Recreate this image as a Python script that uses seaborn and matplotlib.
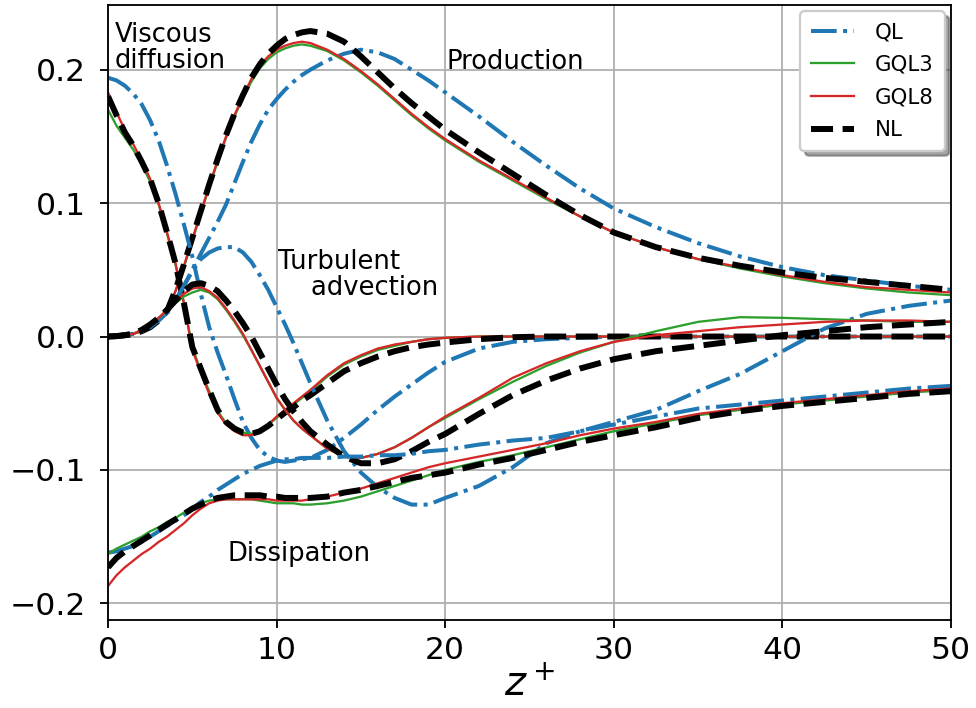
import matplotlib
matplotlib.use("Agg")
import matplotlib.pyplot as plt
import seaborn as sns

# ---- data ----
z_plus = [0, 0.5, 1, 1.5, 2, 2.5, 3, 3.5, 4, 4.5, 5, 5.5, 6, 6.5, 7, 7.5, 8, 8.5, 9, 9.5, 10,
          10.5, 11, 11.5, 12,
          13, 14, 15, 16, 17, 18, 19, 20,
          22, 24, 26, 28, 30,
          32.5, 35, 37.5, 40, 42.5, 45, 47.5, 50]

models = ["QL", "GQL3", "GQL8", "NL"]

# Production
prod_QL = [0, 0.0003, 0.001, 0.002, 0.004, 0.007, 0.012, 0.018, 0.027, 0.038, 0.05, 0.062, 0.074,
           0.086, 0.099, 0.115, 0.131, 0.146, 0.159, 0.17, 0.178, 0.185, 0.191, 0.196, 0.2,
           0.207, 0.212, 0.215, 0.213, 0.208, 0.2, 0.192, 0.183,
           0.165, 0.146, 0.128, 0.111, 0.096,
           0.082, 0.07, 0.06, 0.052, 0.046, 0.042, 0.038, 0.035]
prod_GQL3 = [0, 0.0003, 0.001, 0.002, 0.004, 0.007, 0.012, 0.019, 0.034, 0.052, 0.072, 0.092, 0.112,
             0.131, 0.149, 0.165, 0.179, 0.191, 0.201, 0.208, 0.213, 0.216, 0.218, 0.219, 0.218,
             0.214, 0.207, 0.198, 0.188, 0.177, 0.166, 0.156, 0.147,
             0.131, 0.117, 0.103, 0.09, 0.078,
             0.067, 0.058, 0.051, 0.045, 0.04, 0.036, 0.033, 0.031]
prod_GQL8 = [0, 0.0003, 0.001, 0.002, 0.004, 0.007, 0.012, 0.019, 0.034, 0.053, 0.073, 0.093, 0.113,
             0.132, 0.15, 0.166, 0.18, 0.193, 0.203, 0.21, 0.215, 0.218, 0.22, 0.221, 0.22,
             0.215, 0.208, 0.199, 0.189, 0.178, 0.167, 0.157, 0.148,
             0.132, 0.118, 0.104, 0.09, 0.078,
             0.067, 0.058, 0.052, 0.046, 0.041, 0.037, 0.035, 0.033]
prod_NL = [0, 0.0003, 0.001, 0.002, 0.004, 0.007, 0.012, 0.019, 0.035, 0.054, 0.074, 0.094, 0.114,
           0.133, 0.151, 0.167, 0.181, 0.194, 0.204, 0.212, 0.218, 0.223, 0.226, 0.228, 0.229,
           0.227, 0.221, 0.21, 0.198, 0.186, 0.175, 0.165, 0.155,
           0.138, 0.122, 0.106, 0.091, 0.078,
           0.067, 0.059, 0.053, 0.048, 0.044, 0.041, 0.038, 0.035]

# Viscous diffusion
visc_QL = [0.194, 0.192, 0.188, 0.182, 0.174, 0.162, 0.147, 0.128, 0.107, 0.084, 0.06, 0.032, 0.007,
           -0.012, -0.029, -0.047, -0.064, -0.076, -0.085, -0.09, -0.093, -0.094, -0.093, -0.092, -0.091,
           -0.085, -0.076, -0.066, -0.055, -0.045, -0.036, -0.027, -0.019,
           -0.009, -0.004, -0.002, -0.001, 0.0,
           0.0, 0.0, 0.0, 0.0, 0.0, 0.0, 0.0, 0.0]
visc_GQL3 = [0.17, 0.158, 0.149, 0.14, 0.129, 0.116, 0.099, 0.077, 0.054, 0.025, -0.008, -0.026, -0.041,
             -0.056, -0.065, -0.07, -0.072, -0.073, -0.071, -0.066, -0.061, -0.056, -0.051, -0.046, -0.041,
             -0.03, -0.021, -0.015, -0.01, -0.007, -0.004, -0.002, -0.001,
             0.0, 0.0, 0.0, 0.0, 0.0,
             0.0, 0.0, 0.0, 0.0, 0.0, 0.0, 0.0, 0.0]
visc_GQL8 = [0.183, 0.168, 0.155, 0.144, 0.132, 0.118, 0.1, 0.078, 0.055, 0.025, -0.01, -0.027, -0.043,
             -0.057, -0.066, -0.071, -0.074, -0.074, -0.071, -0.066, -0.06, -0.055, -0.05, -0.045, -0.04,
             -0.029, -0.02, -0.014, -0.009, -0.006, -0.004, -0.002, -0.001,
             0.0, 0.0, 0.0, 0.0, 0.0,
             0.0, 0.0, 0.0, 0.0, 0.0, 0.0, 0.0, 0.0]
visc_NL = [0.18, 0.166, 0.153, 0.143, 0.131, 0.118, 0.1, 0.078, 0.055, 0.025, -0.008, -0.024, -0.04,
           -0.055, -0.064, -0.069, -0.072, -0.073, -0.071, -0.067, -0.062, -0.057, -0.053, -0.048, -0.044,
           -0.035, -0.026, -0.02, -0.015, -0.011, -0.008, -0.006, -0.0045,
           -0.002, -0.0005, 0.0, 0.0, 0.0,
           0.0, 0.0, 0.0, 0.0, 0.0, 0.0, 0.0, 0.0]

# Turbulent advection
tadv_QL = [0, 0.0003, 0.001, 0.002, 0.004, 0.007, 0.012, 0.018, 0.027, 0.038, 0.049, 0.058, 0.063,
           0.066, 0.067, 0.067, 0.063, 0.056, 0.046, 0.035, 0.022, 0.009, -0.005, -0.02, -0.035,
           -0.063, -0.086, -0.102, -0.113, -0.121, -0.126, -0.126, -0.121,
           -0.112, -0.098, -0.08, -0.071, -0.064,
           -0.055, -0.041, -0.028, -0.011, 0.006, 0.017, 0.023, 0.027]
tadv_GQL3 = [0, 0.0003, 0.001, 0.002, 0.005, 0.009, 0.014, 0.019, 0.025, 0.03, 0.033, 0.035, 0.033,
             0.028, 0.02, 0.011, 0.001, -0.01, -0.022, -0.034, -0.046, -0.055, -0.063, -0.069, -0.074,
             -0.084, -0.09, -0.091, -0.088, -0.083, -0.076, -0.068, -0.061,
             -0.047, -0.034, -0.022, -0.012, -0.004,
             0.004, 0.011, 0.0145, 0.014, 0.013, 0.012, 0.011, 0.011]
tadv_GQL8 = [0, 0.0003, 0.001, 0.002, 0.005, 0.009, 0.014, 0.02, 0.026, 0.032, 0.036, 0.037, 0.034,
             0.029, 0.021, 0.012, 0.002, -0.01, -0.022, -0.034, -0.046, -0.055, -0.063, -0.069, -0.074,
             -0.084, -0.09, -0.091, -0.088, -0.083, -0.076, -0.068, -0.06,
             -0.046, -0.031, -0.02, -0.011, -0.004,
             0.001, 0.004, 0.007, 0.009, 0.011, 0.012, 0.012, 0.011]
tadv_NL = [0, 0.0003, 0.001, 0.002, 0.005, 0.009, 0.014, 0.02, 0.027, 0.034, 0.039, 0.04, 0.038,
           0.034, 0.027, 0.019, 0.01, 0.0, -0.012, -0.024, -0.036, -0.047, -0.056, -0.064, -0.071,
           -0.081, -0.09, -0.095, -0.095, -0.092, -0.086, -0.079, -0.073,
           -0.058, -0.044, -0.033, -0.024, -0.017,
           -0.011, -0.007, -0.003, 0.001, 0.004, 0.007, 0.009, 0.011]

# Dissipation
diss_QL = [-0.162, -0.161, -0.159, -0.157, -0.154, -0.15, -0.146, -0.142, -0.138, -0.134, -0.129,
           -0.124, -0.12, -0.115, -0.111, -0.107, -0.103, -0.1, -0.097, -0.095, -0.093, -0.092,
           -0.092, -0.091, -0.091,
           -0.091, -0.09, -0.09, -0.089, -0.089, -0.088, -0.086, -0.085,
           -0.081, -0.078, -0.076, -0.071, -0.066,
           -0.06, -0.054, -0.051, -0.048, -0.045, -0.042, -0.039, -0.037]
diss_GQL3 = [-0.163, -0.159, -0.156, -0.153, -0.15, -0.146, -0.143, -0.139, -0.136, -0.132, -0.128,
             -0.125, -0.123, -0.122, -0.122, -0.122, -0.122, -0.122, -0.123, -0.124, -0.125, -0.125,
             -0.125, -0.126, -0.126,
             -0.125, -0.123, -0.12, -0.116, -0.112, -0.108, -0.104, -0.1,
             -0.094, -0.089, -0.083, -0.077, -0.071,
             -0.065, -0.059, -0.055, -0.051, -0.048, -0.045, -0.042, -0.04]
diss_GQL8 = [-0.187, -0.179, -0.173, -0.168, -0.163, -0.159, -0.154, -0.15, -0.145, -0.14, -0.134,
             -0.129, -0.125, -0.123, -0.122, -0.122, -0.122, -0.122, -0.122, -0.122, -0.123, -0.123,
             -0.123, -0.123, -0.122,
             -0.12, -0.117, -0.114, -0.11, -0.106, -0.102, -0.098, -0.095,
             -0.09, -0.085, -0.08, -0.074, -0.069,
             -0.064, -0.058, -0.054, -0.05, -0.047, -0.044, -0.041, -0.039]
diss_NL = [-0.173, -0.166, -0.161, -0.157, -0.153, -0.149, -0.145, -0.141, -0.137, -0.133, -0.129,
           -0.126, -0.123, -0.121, -0.12, -0.119, -0.119, -0.119, -0.119, -0.12, -0.12, -0.121,
           -0.121, -0.121, -0.121,
           -0.12, -0.117, -0.115, -0.112, -0.109, -0.106, -0.104, -0.102,
           -0.096, -0.091, -0.085, -0.079, -0.074,
           -0.068, -0.061, -0.056, -0.052, -0.049, -0.046, -0.043, -0.041]

x_ticks = [0, 10, 20, 30, 40, 50]
y_ticks = [-0.2, -0.1, 0.0, 0.1, 0.2]

# ---- styling ----
DPI = 165
fig = plt.figure(figsize=(976 / DPI, 708 / DPI), dpi=DPI)
ax = fig.add_axes([0.1107, 0.1243, 0.8637, 0.8686])

styles = {
    "QL": dict(color="#1f77b4", linestyle="-.", linewidth=1.75),
    "GQL3": dict(color="#2ca02c", linestyle="-", linewidth=1.0),
    "GQL8": dict(color="#d62728", linestyle="-", linewidth=1.0),
    "NL": dict(color="black", linestyle="--", linewidth=2.6),
}

terms = [
    [prod_QL, prod_GQL3, prod_GQL8, prod_NL],
    [visc_QL, visc_GQL3, visc_GQL8, visc_NL],
    [tadv_QL, tadv_GQL3, tadv_GQL8, tadv_NL],
    [diss_QL, diss_GQL3, diss_GQL8, diss_NL],
]

handles = {}
for term in terms:
    for model, vals in zip(models, term):
        sns.lineplot(x=z_plus, y=vals, ax=ax, legend=False, sort=False, **styles[model])
        if model not in handles:
            handles[model] = ax.lines[-1]

ax.set_xlim(0, 50)
ax.set_ylim(-0.2125, 0.2485)
ax.set_xticks(x_ticks)
ax.set_yticks(y_ticks)
ax.tick_params(labelsize=13.7)
ax.tick_params(axis="y", pad=6)
ax.grid(True, color="#b0b0b0", linewidth=0.8)
ax.set_axisbelow(True)
ax.set_xlabel("$z^+$", fontsize=17.5, labelpad=0)
ax.set_ylabel("")

tfs = 11.3
ax.text(0.4, 0.201, "Viscous\ndiffusion", fontsize=tfs, ha="left", va="baseline",
        linespacing=1.0)
ax.text(20.1, 0.2005, "Production", fontsize=tfs, ha="left", va="baseline")
ax.text(10.1, 0.0312, "Turbulent\n    advection", fontsize=tfs, ha="left", va="baseline",
        linespacing=1.0)
ax.text(7.1, -0.1685, "Dissipation", fontsize=tfs, ha="left", va="baseline")

ax.legend([handles[m] for m in models], models, loc="upper right", fontsize=9.3,
          labelspacing=0.6, handletextpad=1.0, borderpad=0.5, borderaxespad=0.3,
          shadow=True, fancybox=True, framealpha=1.0)

fig.savefig("out.png", dpi=DPI)
